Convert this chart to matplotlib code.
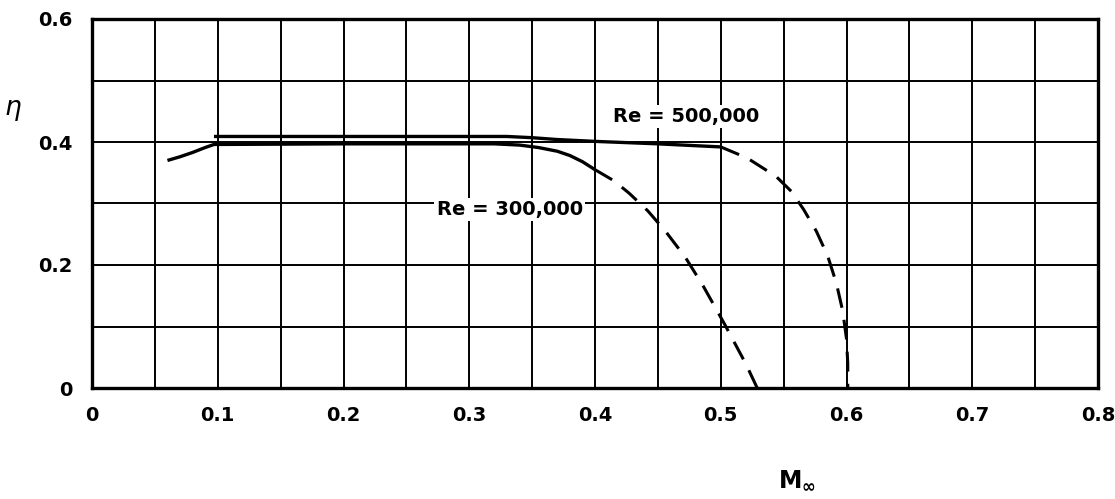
import matplotlib.pyplot as plt
import numpy as np

plt.rcParams['font.family'] = 'DejaVu Sans'

# Re = 300,000 : measured part (solid) and extrapolated part (dashed)
m_300_solid = [0.06, 0.07, 0.08, 0.09, 0.097, 0.20, 0.32, 0.34, 0.355, 0.37, 0.38, 0.39, 0.40]
eta_300_solid = [0.370, 0.376, 0.383, 0.391, 0.396, 0.397, 0.397, 0.395, 0.391, 0.385, 0.378, 0.368, 0.355]
m_300_dash = [0.40, 0.415, 0.427, 0.442, 0.456, 0.472, 0.486, 0.503, 0.520, 0.529]
eta_300_dash = [0.355, 0.337, 0.317, 0.288, 0.255, 0.212, 0.166, 0.104, 0.039, 0.0]

# Re = 500,000
m_500_solid = [0.097, 0.20, 0.33, 0.35, 0.37, 0.40, 0.45, 0.50]
eta_500_solid = [0.409, 0.409, 0.409, 0.407, 0.404, 0.401, 0.397, 0.392]
m_500_dash = [0.50, 0.521, 0.544, 0.556, 0.566, 0.576, 0.585, 0.592, 0.597, 0.600, 0.601, 0.601]
eta_500_dash = [0.392, 0.374, 0.344, 0.320, 0.290, 0.255, 0.215, 0.170, 0.125, 0.080, 0.040, 0.0]

x_ticks = [0, 0.1, 0.2, 0.3, 0.4, 0.5, 0.6, 0.7, 0.8]
x_ticklabels = ['0', '0.1', '0.2', '0.3', '0.4', '0.5', '0.6', '0.7', '0.8']
y_ticks = [0, 0.2, 0.4, 0.6]
y_ticklabels = ['0', '0.2', '0.4', '0.6']

fig = plt.figure(figsize=(11.15, 4.99), dpi=100)
ax = fig.add_axes([92 / 1115, 1 - 388 / 499, 1006 / 1115, 369 / 499])

ax.set_xlim(0, 0.8)
ax.set_ylim(0, 0.6)

# grid: every 0.05 in M, every 0.1 in eta
for gx in np.arange(0.05, 0.8, 0.05):
    ax.axvline(gx, color='black', lw=1.4, zorder=1)
for gy in np.arange(0.1, 0.6, 0.1):
    ax.axhline(gy, color='black', lw=1.4, zorder=1)

dash = (0, (6.5, 4))
ax.plot(m_300_solid, eta_300_solid, color='black', lw=2.4, zorder=3, solid_capstyle='butt')
ax.plot(m_300_dash, eta_300_dash, color='black', lw=2.2, ls=dash, zorder=3)
ax.plot(m_500_solid, eta_500_solid, color='black', lw=2.4, zorder=3, solid_capstyle='butt')
ax.plot(m_500_dash, eta_500_dash, color='black', lw=2.2, ls=dash, zorder=3)

box = dict(facecolor='white', edgecolor='none', pad=1.5)
ax.text(0.274, 0.29, 'Re = 300,000', fontsize=14, fontweight='bold', ha='left', va='center',
        bbox=box, zorder=4)
ax.text(0.414, 0.442, 'Re = 500,000', fontsize=14, fontweight='bold', ha='left', va='center',
        bbox=box, zorder=4)

ax.set_xticks(x_ticks)
ax.set_xticklabels(x_ticklabels, fontweight='bold')
ax.set_yticks(y_ticks)
ax.set_yticklabels(y_ticklabels, fontweight='bold')
ax.tick_params(axis='both', length=0, labelsize=14)
ax.tick_params(axis='x', pad=13)
ax.tick_params(axis='y', pad=14)

for s in ax.spines.values():
    s.set_linewidth(2.4)

fig.text(13 / 1115, 1 - 110 / 499, r'$\eta$', fontsize=19, ha='center', va='center')
fig.text(797 / 1115, 1 - 480 / 499, r'$\mathregular{M_{\infty}}$', fontsize=17,
         fontweight='bold', ha='center', va='center')

fig.savefig('out.png', dpi=100)
